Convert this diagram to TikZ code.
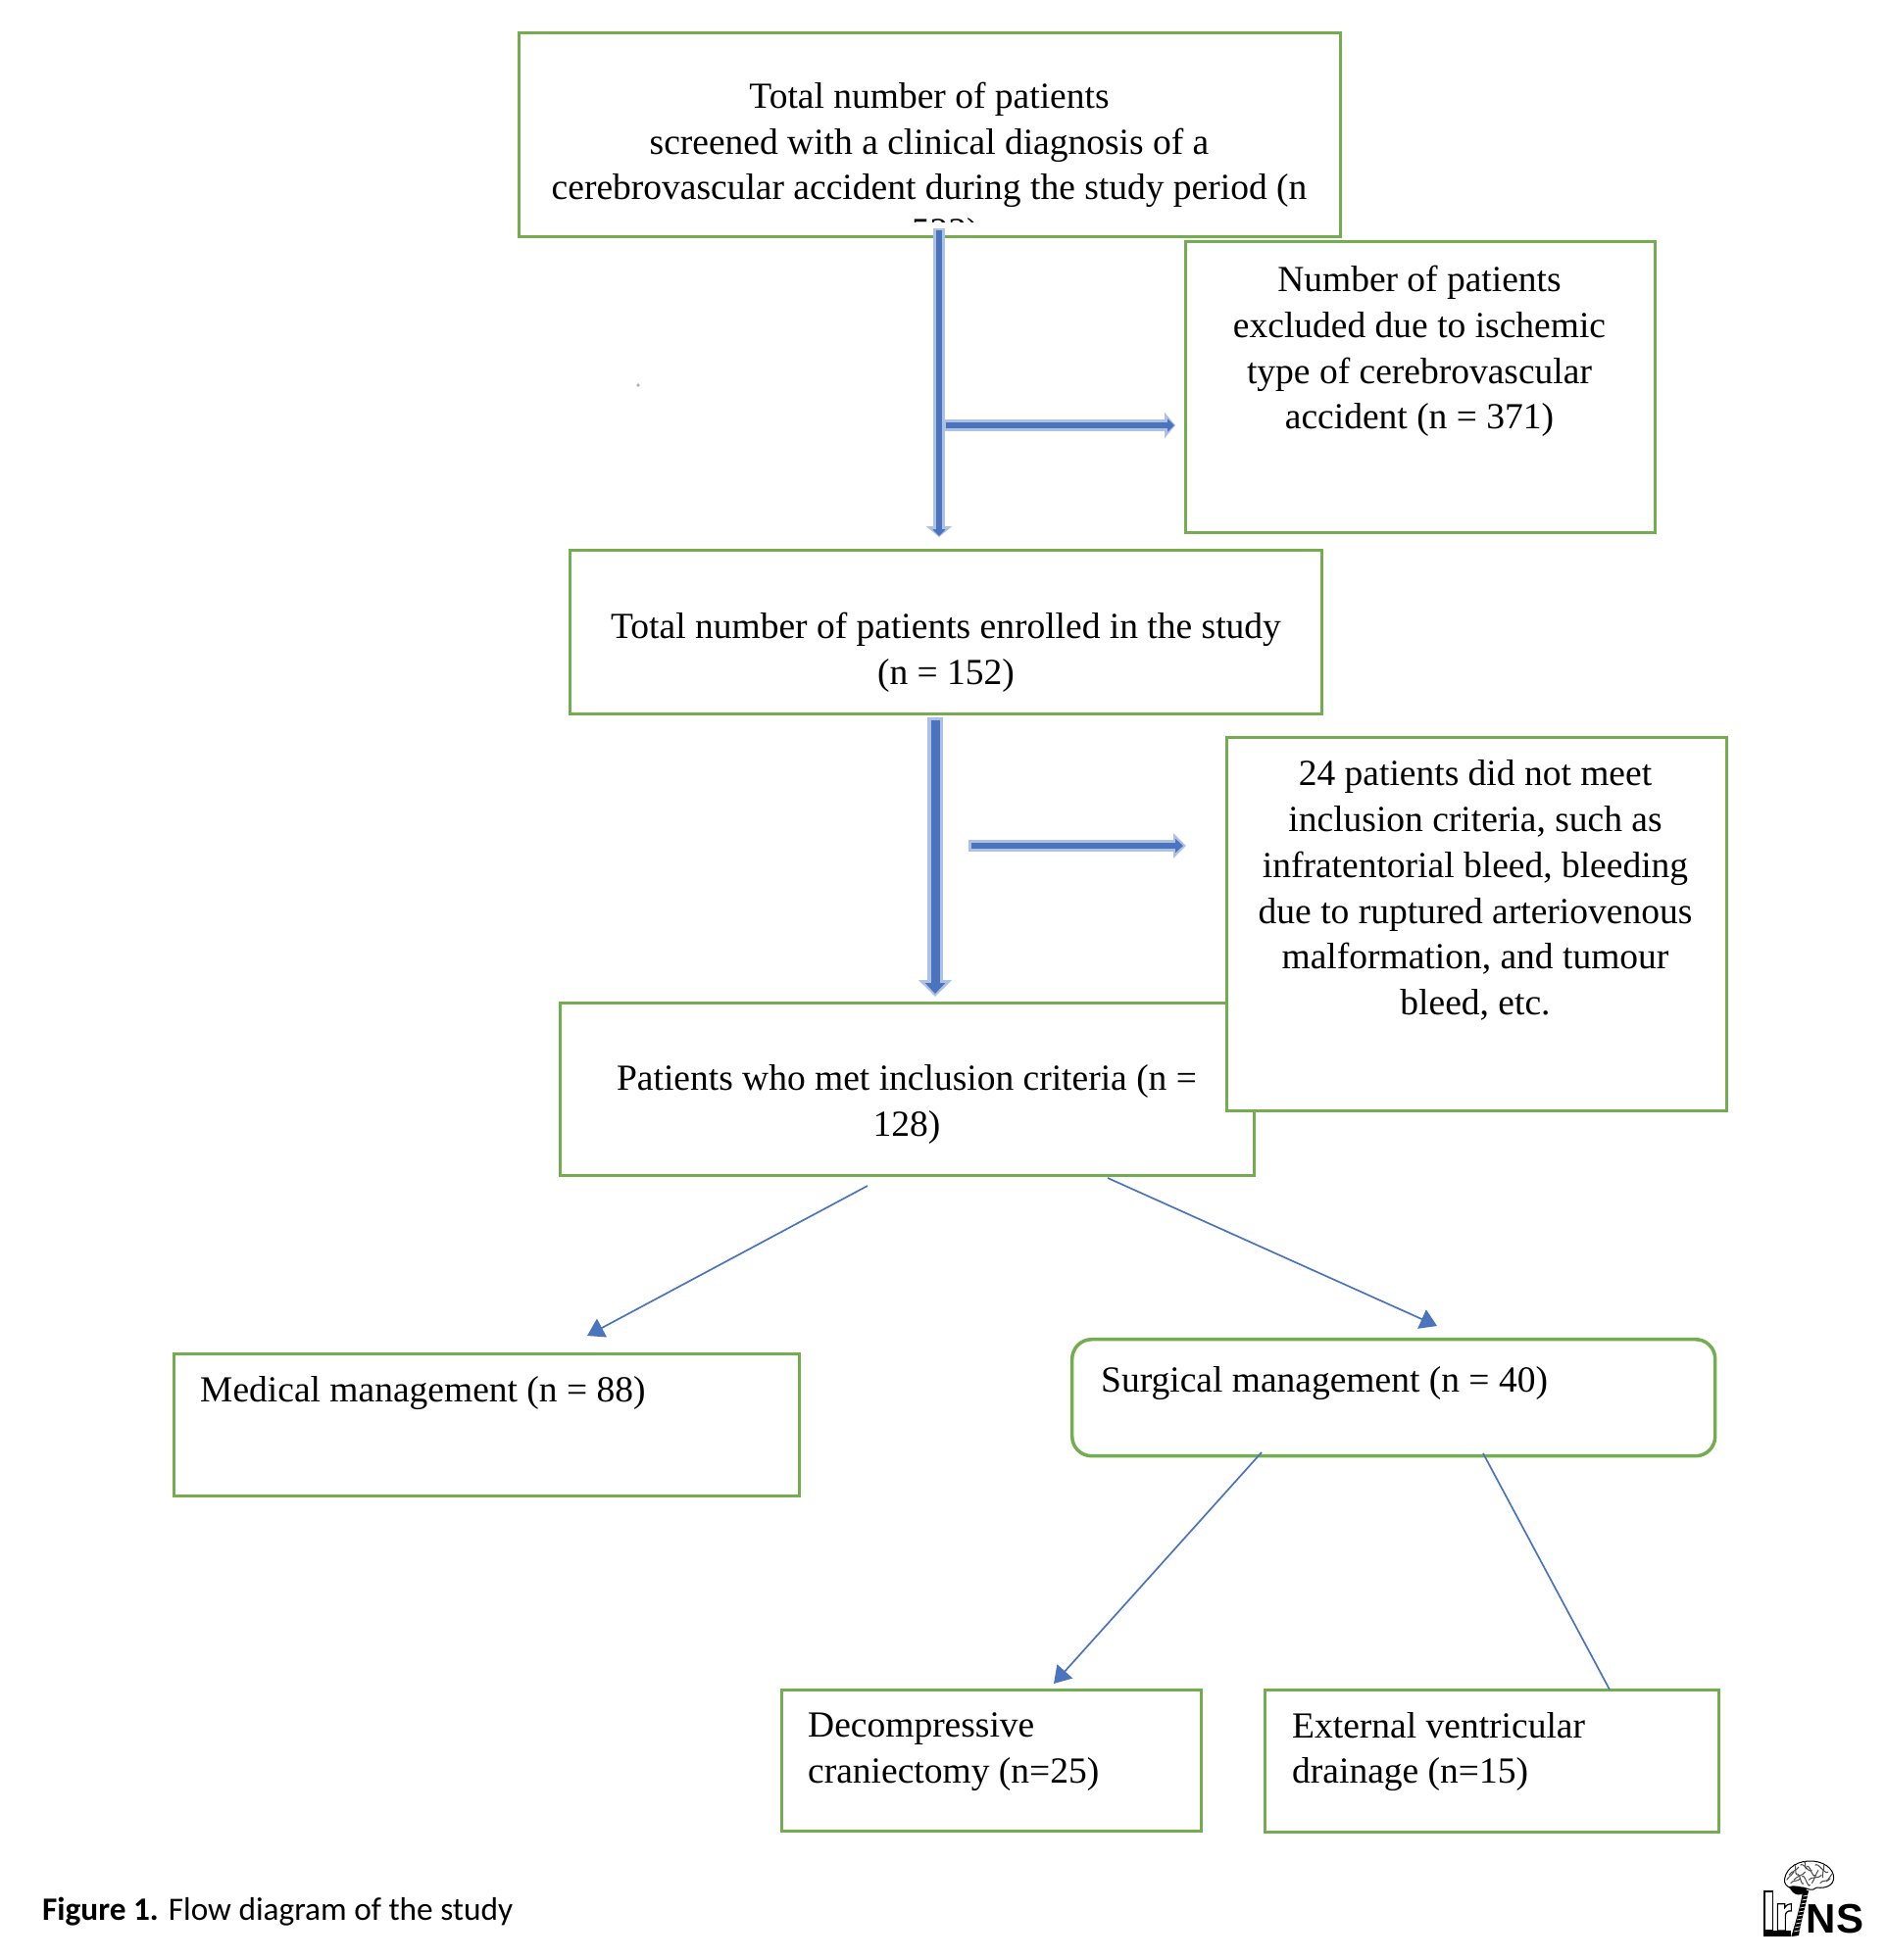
\documentclass[tikz,border=0pt]{standalone}
\usepackage{fontspec}
\setmainfont{Liberation Serif}
\newfontfamily\capfont{Carlito}
\newfontfamily\logofont{Liberation Sans}
\usetikzlibrary{arrows.meta}
\definecolor{boxgreen}{HTML}{74AD50}
\definecolor{arrowblue}{HTML}{4A75BE}
\definecolor{arrowlight}{HTML}{AFC1E3}
\tikzset{
  x=1pt,y=-1pt,
  gbox/.style={draw=boxgreen,line width=3.5pt,fill=white,inner sep=0pt,line join=miter},
  rbox/.style={gbox,rounded corners=20pt},
  ctext/.style={inner sep=0pt,align=center,font=\fontsize{37.5}{46.8}\selectfont},
  ltext/.style={inner sep=0pt,align=left,anchor=west,font=\fontsize{37.5}{46.8}\selectfont},
  thinarrow/.style={draw=arrowblue,line width=1.7pt,-{Triangle[length=17pt,width=21pt,fill=arrowblue]}},
  thinline/.style={draw=arrowblue,line width=1.7pt},
}
\begin{document}
\begin{tikzpicture}
\useasboundingbox (0,0) rectangle (1924,2000);
\fill[white] (0,0) rectangle (1924,2000);
% boxes
\begin{scope}[shift={(0.7,0.7)}]
\node[gbox,minimum width=838pt,minimum height=208pt] (screened) at (948,137) {};
\node[gbox,minimum width=479pt,minimum height=297pt] (excluded) at (1448.5,394.5) {};
\node[gbox,minimum width=767pt,minimum height=167pt] (enrolled) at (964.5,644.5) {};
\node[gbox,minimum width=708pt,minimum height=176pt] (inclusion) at (925,1111) {};
\node[gbox,minimum width=510pt,minimum height=381pt] (notmet) at (1506,942.5) {};
\node[gbox,minimum width=638pt,minimum height=145pt] (medical) at (496,1453.5) {};
\node[rbox,minimum width=656pt,minimum height=119pt] (surgical) at (1421,1425.5) {};
\node[gbox,minimum width=428pt,minimum height=144pt] (decomp) at (1011,1796) {};
\node[gbox,minimum width=463pt,minimum height=145pt] (evd) at (1521.5,1796.5) {};
\end{scope}
% texts
\node[ctext] (t1) at (948,148) {Total number of patients\\screened with a clinical diagnosis of a\\cerebrovascular accident during the study period (n};
\begin{scope}
\clip (700,215) rectangle (1200,226.5);
\node[ctext] (t1b) at (949,239.5) {= 523)};
\end{scope}
\node[ctext] (t2) at (1448,358.5) {Number of patients\\excluded due to ischemic\\type of cerebrovascular\\accident (n = 371)};
\node[ctext] (t3) at (965,665.5) {Total number of patients enrolled in the study\\(n = 152)};
\node[ctext] (t4) at (1505,908.5) {24 patients did not meet\\inclusion criteria, such as\\infratentorial bleed, bleeding\\due to ruptured arteriovenous\\malformation, and tumour\\bleed, etc.};
\node[ctext] (t5) at (925,1127) {Patients who met inclusion criteria (n =\\128)};
\node[ltext] (t6) at (204,1421.5) {Medical management (n = 88)};
\node[ltext] (t7) at (1123,1411.5) {Surgical management (n = 40)};
\node[ltext] (t8) at (824,1787.5) {Decompressive\\craniectomy (n=25)};
\node[ltext] (t9) at (1318,1787.5) {External ventricular\\drainage (n=15)};
\node[inner sep=0pt,anchor=base west,font=\capfont\fontsize{33.3}{36}\selectfont] (cap) at (43,1959) {\textbf{Figure 1.} Flow diagram of the study};
% speck
\fill[black!30] (651,393) circle (1.8pt);
% coordinates of connector ends
\coordinate (a1) at (958,233);
\coordinate (a2) at (958,548);
\coordinate (a3) at (963,434);
\coordinate (a4) at (1199,434);
\coordinate (b1) at (954,732);
\coordinate (b2) at (954,1017);
\coordinate (b3) at (988,863);
\coordinate (b4) at (1210,863);
\coordinate (c1) at (885,1210);
\coordinate (c2) at (599,1363);
\coordinate (c3) at (1130,1202);
\coordinate (c4) at (1466,1353);
\coordinate (d1) at (1287,1482);
\coordinate (d2) at (1075,1718);
\coordinate (d3) at (1513,1483);
\coordinate (d4) at (1642,1724);
% fat arrows
\draw[arrowlight,line width=12pt,-{Triangle[length=11pt,width=26pt]}] (a1)--(a2);
\draw[arrowblue,line width=6pt,shorten <=2pt,shorten >=1pt,-{Triangle[length=7pt,width=13pt]}] (a1)--(a2);
\draw[arrowlight,line width=12pt,-{Triangle[length=11pt,width=26pt]}] (a3)--(a4);
\draw[arrowblue,line width=6pt,shorten <=2pt,shorten >=1pt,-{Triangle[length=7pt,width=13pt]}] (a3)--(a4);
\draw[arrowlight,line width=16pt,-{Triangle[length=17pt,width=33pt]}] (b1)--(b2);
\draw[arrowblue,line width=9pt,shorten <=3pt,shorten >=3pt,-{Triangle[length=11pt,width=20pt]}] (b1)--(b2);
\draw[arrowlight,line width=12pt,-{Triangle[length=13pt,width=25pt]}] (b3)--(b4);
\draw[arrowblue,line width=6.5pt,shorten <=3pt,shorten >=3pt,-{Triangle[length=8pt,width=14pt]}] (b3)--(b4);
% thin arrows
\draw[thinarrow] (c1)--(c2);
\draw[thinarrow] (c3)--(c4);
\draw[thinarrow] (d1)--(d2);
\draw[thinline] (d3)--(d4);
% logo
\begin{scope}[shift={(1780,1890)},x=0.3333pt,y=-0.3333pt]
  % brain
  \filldraw[fill=white,draw=black,line width=1pt] (122,92) .. controls (118,60) and (150,28) .. (195,27)
     .. controls (240,25) and (272,50) .. (272,78) .. controls (272,100) and (250,112) .. (220,108)
     .. controls (205,122) and (190,110) .. (178,108) .. controls (160,115) and (130,115) .. (122,92) -- cycle;
  \foreach \a/\b/\c/\d in {135/70/165/45,150/85/185/60,170/40/205/55,195/85/235/70,215/40/255/60,140/95/170/80,230/95/262/80,180/30/190/50,128/85/150/60,160/70/180/95,190/45/215/70,205/95/225/55,240/40/240/75,250/90/268/65,150/40/160/65,175/75/200/100}
    \draw[black!70,line width=1pt] (\a,\b) .. controls ({\a+8},{\b-12}) and ({\c-8},{\d+12}) .. (\c,\d);
  % cerebellum and brain stem
  \fill[black] (135,105) .. controls (150,100) and (175,105) .. (190,112) .. controls (180,135) and (150,140) .. (135,105) -- cycle;
  % spine
  \fill[black] (178,115) -- (195,118) .. controls (185,170) and (170,220) .. (165,255) -- (142,258) .. controls (155,215) and (170,165) .. (178,115) -- cycle;
  \foreach \y in {135,147,...,245}
    \draw[white,line width=0.7pt] ({146+(255-\y)*0.27},\y) -- ({166+(255-\y)*0.27},{\y-4});
  % I r
  \draw[black,line width=1.2pt,fill=white] (60,120) rectangle (85,240);
  \draw[black,line width=1.2pt,fill=white] (100,240) -- (100,158) -- (122,158) -- (122,170) .. controls (128,160) and (135,158) .. (142,158) -- (142,180) .. controls (130,178) and (124,185) .. (124,195) -- (124,240) -- cycle;
  \fill[black] (58,240) rectangle (140,258);
  \node[inner sep=0pt,anchor=base west,font=\logofont\bfseries\fontsize{42}{42}\selectfont] (logoNS) at (188,246) {NS};
\end{scope}
\end{tikzpicture}
\end{document}
